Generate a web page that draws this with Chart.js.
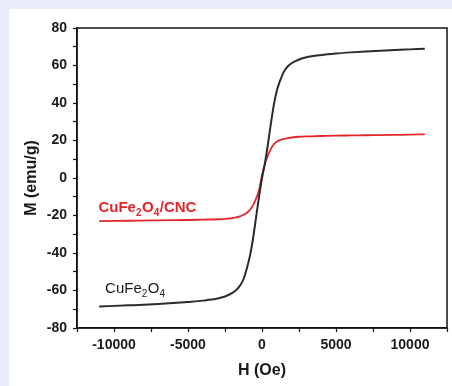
<!DOCTYPE html>
<html lang="en">
<head>
  <meta charset="UTF-8">
  <title>M-H curves</title>
  <script src="https://cdn.jsdelivr.net/npm/chart.js"></script>
  <style>
    html, body {
      margin: 0;
      padding: 0;
      background-color: #e8ecf8;
      width: 452px;
      height: 386px;
      overflow: hidden;
    }

    .panel {
      position: absolute;
      left: 9px;
      top: 9px;
      width: 443px;
      height: 377px;
      background: #ffffff;
    }

    canvas {
      display: block;
    }
  </style>
</head>
<body>
  <div class="panel">
    <canvas id="mhChart" width="443" height="377"></canvas>
  </div>

  <script>
    // applied field H (Oe)
    const fieldOe = [-11000, -10000, -9000, -8000, -7000, -6000, -5000, -4000, -3000, -2500, -2000, -1750, -1500, -1250, -1000, -800, -600, -400, -200, 0,
      200, 400, 600, 800, 1000, 1250, 1500, 1750, 2000, 2500, 3000, 4000, 5000, 6000, 7000, 8000, 9000, 10000, 11000];

    // magnetisation M (emu/g)
    const ferriteM = [-68.5, -68.2, -67.9, -67.6, -67.2, -66.7, -66.1, -65.4, -64.3, -63.2, -61.3, -59.8, -57.5, -54.0, -47.5, -41.0, -32.0, -21.0, -10.0, 0.0,
      8.0, 18.0, 29.0, 39.0, 46.5, 52.5, 57.0, 59.6, 61.2, 63.2, 64.4, 65.6, 66.4, 67.0, 67.5, 67.9, 68.3, 68.6, 68.9];
    const compositeM = [-23.0, -22.9, -22.8, -22.7, -22.6, -22.5, -22.4, -22.2, -22.0, -21.8, -21.4, -21.0, -20.5, -19.6, -18.4, -16.8, -14.5, -11.0, -6.5, 1.5,
      7.5, 12.0, 15.5, 18.0, 19.4, 20.3, 20.9, 21.3, 21.6, 22.0, 22.2, 22.4, 22.6, 22.7, 22.8, 22.9, 23.0, 23.1, 23.3];

    const seriesNames = ['CuFe2O4', 'CuFe2O4/CNC'];
    const seriesColors = ['#2b2b2b', '#e3262a'];

    const fontFamily = '"Liberation Sans", Arial, sans-serif';

    function toPoints(ys) {
      return fieldOe.map((h, i) => ({ x: h, y: ys[i] }));
    }

    // box around the plot area (top and right sides)
    const frame = {
      id: 'frame',
      afterDraw(chart) {
        const { ctx, chartArea: a } = chart;
        ctx.save();
        ctx.strokeStyle = '#111';
        ctx.lineWidth = 1.5;
        ctx.strokeRect(a.left, a.top, a.right - a.left, a.bottom - a.top);
        ctx.restore();
      }
    };

    // curve labels with subscripts, placed in data units
    const curveLabels = {
      id: 'curveLabels',
      afterDatasetsDraw(chart) {
        const { ctx, scales: { x, y } } = chart;
        const items = [
          { parts: ['CuFe', '2', 'O', '4', '/CNC'], h: -11050, m: -18.3, color: seriesColors[1], weight: 'bold' },
          { parts: ['CuFe', '2', 'O', '4'], h: -10600, m: -61.2, color: '#1a1a1a', weight: 'normal' }
        ];
        ctx.save();
        ctx.textBaseline = 'alphabetic';
        items.forEach(it => {
          let px = x.getPixelForValue(it.h);
          const py = y.getPixelForValue(it.m);
          ctx.fillStyle = it.color;
          it.parts.forEach((p, i) => {
            const sub = i % 2 === 1;
            ctx.font = `${it.weight} ${sub ? 10 : 15}px ${fontFamily}`;
            ctx.fillText(p, px, py + (sub ? 4 : 0));
            px += ctx.measureText(p).width + (sub ? 0.5 : 0);
          });
        });
        ctx.restore();
      }
    };

    new Chart(document.getElementById('mhChart'), {
      type: 'scatter',
      data: {
        datasets: [
          {
            label: seriesNames[0],
            data: toPoints(ferriteM),
            showLine: true,
            borderColor: seriesColors[0],
            borderWidth: 2,
            pointRadius: 0,
            cubicInterpolationMode: 'monotone'
          },
          {
            label: seriesNames[1],
            data: toPoints(compositeM),
            showLine: true,
            borderColor: seriesColors[1],
            borderWidth: 1.8,
            pointRadius: 0,
            cubicInterpolationMode: 'monotone'
          }
        ]
      },
      options: {
        responsive: false,
        animation: false,
        layout: { padding: { top: 19, right: 3, left: 0, bottom: 0 } },
        plugins: {
          legend: { display: false },
          tooltip: { enabled: false }
        },
        scales: {
          x: {
            type: 'linear',
            min: -12500,
            max: 12500,
            afterFit(scale) { scale.height = 58; },
            border: { display: true, color: '#111', width: 1.5 },
            grid: { drawOnChartArea: false, drawTicks: true, tickLength: 4, tickColor: '#111', tickWidth: 1.2 },
            ticks: {
              stepSize: 2500,
              autoSkip: false,
              maxRotation: 0,
              padding: 5,
              color: '#1a1a1a',
              font: { family: fontFamily, size: 14, weight: 'bold' },
              callback: v => (v % 5000 === 0 && Math.abs(v) <= 10000) ? String(v) : ''
            },
            title: {
              display: true,
              text: 'H (Oe)',
              color: '#1a1a1a',
              font: { family: fontFamily, size: 16, weight: 'bold' },
              padding: { top: 0, bottom: 6 }
            }
          },
          y: {
            type: 'linear',
            min: -80,
            max: 80,
            afterFit(scale) { scale.width = 68; },
            border: { display: true, color: '#111', width: 1.5 },
            grid: { drawOnChartArea: false, drawTicks: true, tickLength: 4, tickColor: '#111', tickWidth: 1.2 },
            ticks: {
              stepSize: 10,
              autoSkip: false,
              padding: 6,
              color: '#1a1a1a',
              font: { family: fontFamily, size: 14, weight: 'bold' },
              callback: v => (v % 20 === 0) ? String(v) : ''
            },
            title: {
              display: true,
              text: 'M (emu/g)',
              color: '#1a1a1a',
              font: { family: fontFamily, size: 16, weight: 'bold' },
              padding: { top: 13, bottom: 0 }
            }
          }
        }
      },
      plugins: [frame, curveLabels]
    });
  </script>
</body>
</html>
